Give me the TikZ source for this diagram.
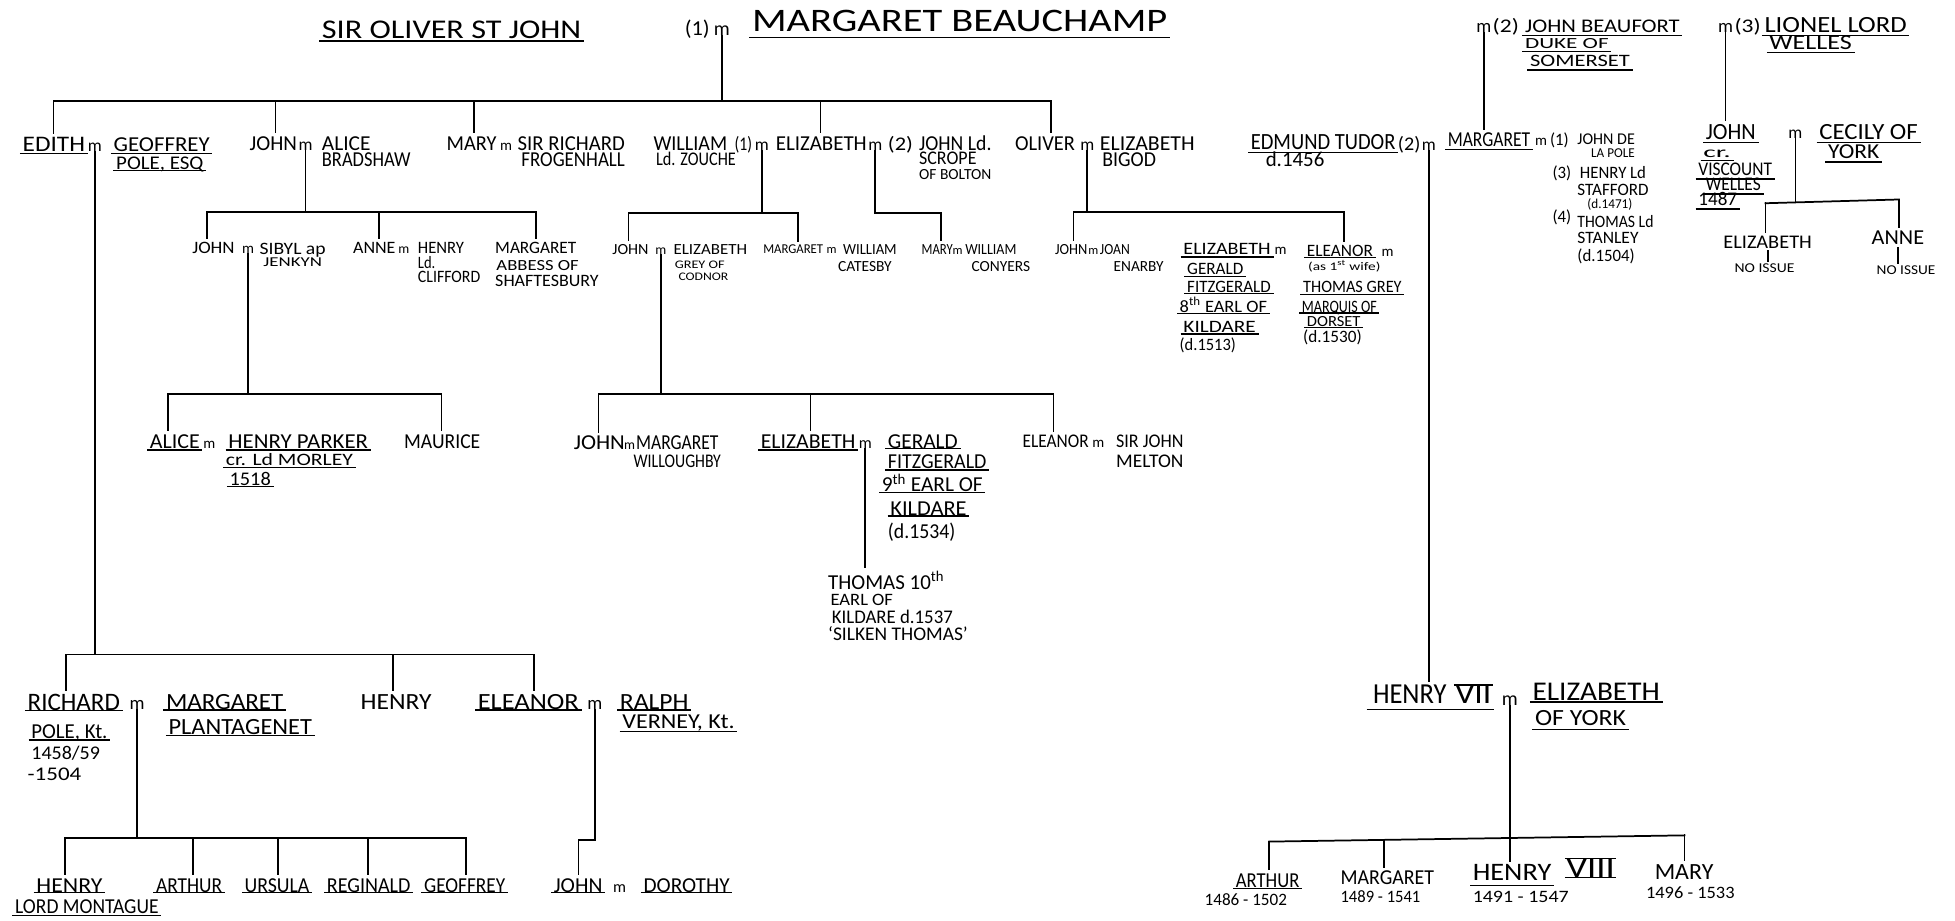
\documentclass[tikz,border=0pt]{standalone}
\usepackage{fontspec}
\setmainfont{Carlito}
\usepackage{graphicx}
\usetikzlibrary{calc}
% name, x-left, x-right, y-centre, cap height, text
\newcommand\tn[6]{\node[txt] (#1) at ({#2},{#4+#5/2}) {\fontsize{\fpeval{#5*1.55}}{\fpeval{#5*2}}\selectfont\resizebox{\fpeval{#3-#2}pt}{\height}{#6}};}
% name, x, baseline, font size
\newcommand\mn[4]{\node[txt,anchor=base] (#1) at ({#2},{#3}) {\fontsize{#4}{#4}\selectfont m};}
\newcommand\ulin[2][2.5]{\draw[uline] ($(#2.base west)+(-2,#1)$) -- ($(#2.base east)+(2,#1)$);}
\newcommand\dropto[2]{\draw[dl] (#1) -- (#1 |- #2.north);}
\begin{document}
\begin{tikzpicture}[x=1pt,y=-1pt,
  txt/.style={inner sep=0pt,anchor=base west},
  ln/.style={line width=1.4pt,line cap=rect},
  dl/.style={ln,shorten >=3pt},
  uline/.style={line width=1.1pt}]
\fill[white] (0,0) rectangle (1568,738);
\useasboundingbox (0,0) rectangle (1568,738);

% ---------- top generation
\tn{soj}{258}{466}{24}{14}{SIR OLIVER ST JOHN}\ulin[2]{soj}
\tn{one}{549}{569}{23}{11}{(1)}
\mn{mtop}{579}{28.5}{16}
\tn{mb}{603}{936}{17}{17}{MARGARET BEAUCHAMP}\ulin[4.5]{mb}

\coordinate (tJ) at (579,81);
\coordinate (tA) at (43,81);
\coordinate (tB) at (221,81);
\coordinate (tC) at (380,81);
\coordinate (tD) at (658,81);
\coordinate (tE) at (843,81);

% ---------- row 1
\tn{edith}{18}{68}{116}{11.5}{EDITH}\ulin[1.5]{edith}
\mn{med}{76}{121.5}{14}
\tn{geof}{91}{168}{116}{11}{GEOFFREY}\ulin[1.5]{geof}
\tn{pole}{93}{163}{131}{10}{POLE, ESQ}\ulin[1]{pole}
\tn{john1}{200}{238}{115}{11}{JOHN}
\mn{mjo}{245}{120.5}{14}
\tn{alice1}{258}{297}{115}{11}{ALICE}
\tn{brad}{258}{329}{128}{11}{BRADSHAW}
\tn{mary1}{358}{398}{115}{11}{MARY}
\mn{mma}{406}{120.5}{12}
\tn{sirr}{415}{501}{115}{11}{SIR RICHARD}
\tn{frog}{418}{501}{128}{11}{FROGENHALL}
\tn{will}{524}{583}{115}{11}{WILLIAM}
\tn{wone}{589}{603}{116}{10}{(1)}
\mn{mwi}{611}{120.5}{14}
\tn{zou}{526}{590}{128}{10}{Ld. ZOUCHE}
\tn{eliz1}{622}{695}{115}{11}{ELIZABETH}
\mn{mel}{702}{120.5}{14}
\tn{etwo}{712}{732}{116}{10}{(2)}
\tn{scr1}{737}{795}{115}{11}{JOHN Ld.}
\tn{scr2}{737}{783}{127}{10}{SCROPE}
\tn{scr3}{737}{795}{140}{8}{OF BOLTON}
\tn{oliv}{814}{862}{115}{11}{OLIVER}
\mn{mol}{872}{120.5}{14}
\tn{eb1}{882}{958}{115}{11}{ELIZABETH}
\tn{eb2}{884}{927}{128}{11}{BIGOD}

\draw[ln] (mtop) -- (tJ);
\draw[ln] (tA) -- (tE);
\dropto{tA}{edith}
\dropto{tB}{john1}
\dropto{tC}{mary1}
\dropto{tD}{eliz1}
\dropto{tE}{oliv}

% ---------- right: Margaret Beauchamp's other marriages
\mn{mbf}{1190}{26}{15}
\tn{bftwo}{1197}{1218}{21}{10}{(2)}
\tn{bf1}{1223}{1347}{21}{10}{JOHN BEAUFORT}\ulin{bf1}
\tn{bf2}{1223}{1290}{35}{8}{DUKE OF}\ulin{bf2}
\tn{bf3}{1227}{1307}{49}{9}{SOMERSET}\ulin{bf3}
\mn{mwl}{1384}{26}{15}
\tn{wltwo}{1391}{1412}{21}{10}{(3)}
\tn{wl1}{1415}{1529}{20}{12}{LIONEL LORD}\ulin{wl1}
\tn{wl2}{1419}{1485}{34}{11}{WELLES}\ulin{wl2}

\tn{edm}{1003}{1119}{114}{12}{EDMUND TUDOR}\ulin{edm}
\tn{edd}{1015}{1062}{128}{11}{d.1456}
\tn{edtwo}{1121}{1139}{116}{10}{(2)}
\mn{med2}{1146}{121}{14}
\tn{marg}{1161}{1227}{112}{11}{MARGARET}\ulin{marg}
\mn{mmg}{1236}{117}{12}
\tn{mgone}{1243}{1258}{112}{9}{(1)}
\tn{jdp1}{1265}{1311}{112}{8.5}{JOHN DE}
\tn{jdp2}{1276}{1311}{123}{7}{LA POLE}
\tn{mg3}{1245}{1260}{139}{9}{(3)}
\tn{hs1}{1267}{1320}{139}{9}{HENRY Ld}
\tn{hs2}{1265}{1322}{152}{9}{STAFFORD}
\tn{hs3}{1273}{1309}{164}{7}{(d.1471)}
\tn{mg4}{1245}{1260}{174}{9}{(4)}
\tn{ts1}{1265}{1326}{178}{9}{THOMAS Ld}
\tn{ts2}{1265}{1314}{191}{9}{STANLEY}
\tn{ts3}{1265}{1311}{205}{9}{(d.1504)}

\tn{jw1}{1368}{1408}{106}{12}{JOHN}\ulin{jw1}
\tn{jw2}{1366}{1388}{122}{8}{cr.}\ulin{jw2}
\tn{jw3}{1362}{1421}{136}{10}{VISCOUNT}\ulin{jw3}
\tn{jw4}{1368}{1412}{148}{10}{WELLES}\ulin{jw4}
\tn{jw5}{1362}{1393}{160}{10}{1487}\ulin{jw5}
\mn{mcy}{1440}{111}{14}
\tn{cy1}{1459}{1538}{106}{12}{CECILY OF}\ulin{cy1}
\tn{cy2}{1466}{1507}{122}{11}{YORK}\ulin{cy2}
\tn{cye}{1382}{1453}{194}{10}{ELIZABETH}
\tn{cyen}{1391}{1439}{215}{7}{NO ISSUE}
\tn{cya}{1501}{1543}{191}{11}{ANNE}
\tn{cyan}{1505}{1552}{217}{7}{NO ISSUE}

\draw[dl] (mbf) -- (mbf |- marg.north);
\draw[dl] (mwl) -- (mwl |- jw1.north);
\coordinate (cyJ) at (1440,162);
\coordinate (cyL) at (1416,163);
\coordinate (cyR) at (1523,160);
\draw[ln] (mcy) -- (cyJ);
\draw[ln] (cyL) -- (cyR);
\dropto{cyL}{cye}
\dropto{cyR}{cya}
\draw[ln,shorten <=2pt,shorten >=2pt] (cye.south) -- (cye.south |- cyen.north);
\draw[ln,shorten <=2pt,shorten >=2pt] (cya.south) -- (cya.south |- cyan.north);

% ---------- row 2
\tn{js}{154}{188}{199}{9}{JOHN}
\mn{mjs}{199}{203.5}{12}
\tn{sib1}{208}{261}{200}{9}{SIBYL ap}
\tn{sib2}{211}{258}{210.5}{7}{JENKYN}
\tn{anne}{283}{317}{199}{9}{ANNE}
\mn{man}{324}{203.5}{11}
\tn{hc1}{335}{372}{199}{9}{HENRY}
\tn{hc2}{335}{349}{211}{9}{Ld.}
\tn{hc3}{335}{385}{222}{9}{CLIFFORD}
\tn{abm}{397}{462}{199}{9}{MARGARET}
\tn{ab2}{398}{464}{213}{8}{ABBESS OF}
\tn{ab3}{397}{480}{225}{9}{SHAFTESBURY}
\tn{jz}{491}{520}{200}{8}{JOHN}
\mn{mjz}{530}{204}{11}
\tn{egc1}{540}{599}{200}{8}{ELIZABETH}
\tn{egc2}{541}{581}{212}{6}{GREY OF}
\tn{egc3}{544}{584}{222}{6}{CODNOR}
\tn{mgc}{612}{660}{200}{7}{MARGARET}
\mn{mmc}{667}{203.5}{10}
\tn{wc1}{676}{719}{200}{8}{WILLIAM}
\tn{wc2}{672}{715}{214}{8}{CATESBY}
\tn{myc}{739}{764}{200}{8}{MARY}
\mn{mmy}{768}{204}{10}
\tn{wy1}{774}{815}{200}{8}{WILLIAM}
\tn{wy2}{779}{826}{214}{8}{CONYERS}
\tn{jj}{846}{872}{200}{8}{JOHN}
\mn{mjj}{877}{204}{10}
\tn{jo1}{882}{906}{200}{8}{JOAN}
\tn{jo2}{893}{933}{214}{8}{ENARBY}
\tn{ek1}{949}{1019}{200}{9}{ELIZABETH}\ulin[1.5]{ek1}
\mn{mek}{1027}{204.5}{12}
\tn{ek2}{952}{997}{216}{9}{GERALD}\ulin[1.5]{ek2}
\tn{ek3}{952}{1019}{230}{9}{FITZGERALD}\ulin[1]{ek3}
\tn{ek4}{946}{1016}{246}{9}{8\textsuperscript{th} EARL OF}\ulin[1]{ek4}
\tn{ek5}{949}{1007}{262}{9}{KILDARE}\ulin[1.5]{ek5}
\tn{ek6}{946}{991}{277}{9}{(d.1513)}
\tn{el2}{1048}{1101}{201}{9}{ELEANOR}\ulin[1]{el2}
\mn{mel2}{1113}{205.5}{12}
\tn{el3}{1049}{1107}{214}{6}{(as 1\textsuperscript{st} wife)}
\tn{el4}{1045}{1124}{230}{9}{THOMAS GREY}\ulin[1.5]{el4}
\tn{el5}{1044}{1104}{246}{9}{MARQUIS OF}\ulin[0.5]{el5}
\tn{el6}{1048}{1091}{258}{8}{DORSET}\ulin[0.5]{el6}
\tn{el7}{1045}{1092}{270}{9}{(d.1530)}

\coordinate (jaJ) at (245,170);
\coordinate (jaL) at (166,170);
\coordinate (jaM) at (304,170);
\coordinate (jaR) at (430,170);
\draw[ln] (mjo) -- (jaJ);
\draw[ln] (jaL) -- (jaR);
\dropto{jaL}{js}
\dropto{jaM}{anne}
\dropto{jaR}{abm}

\coordinate (jwJ) at (611,171);
\coordinate (jwL) at (504,171);
\coordinate (jwR) at (640,171);
\draw[ln] (mwi) -- (jwJ);
\draw[ln] (jwL) -- (jwR);
\dropto{jwL}{jz}
\dropto{jwR}{mgc}

\coordinate (es1) at (702,171);
\coordinate (es2) at (755,171);
\draw[dl] (mel) -- (es1) -- (es2) -- (es2 |- myc.north);

\coordinate (joJ) at (872,170);
\coordinate (joL) at (861,170);
\coordinate (joR) at (1078,170);
\draw[ln] (mol) -- (joJ);
\draw[ln] (joL) -- (joR);
\dropto{joL}{jj}
\dropto{joR}{el2}

% ---------- row 3
\tn{al}{120}{160}{354}{11}{ALICE}\ulin[1.5]{al}
\mn{mal}{168}{359.5}{12}
\tn{hp1}{183}{295}{354}{11}{HENRY PARKER}\ulin[1.5]{hp1}
\tn{hp2}{181}{283}{369}{9}{cr. Ld MORLEY}\ulin[1.5]{hp2}
\tn{hp3}{184}{217}{384}{10}{1518}\ulin[1]{hp3}
\tn{mau}{324}{385}{354}{11}{MAURICE}
\tn{jm}{460}{501}{355}{11}{JOHN}
\mn{mjm}{505}{360.5}{11}
\tn{mw1}{510}{576}{355}{11}{MARGARET}
\tn{mw2}{508}{578}{370}{10}{WILLOUGHBY}
\tn{ez}{610}{686}{354}{11}{ELIZABETH}\ulin[1.5]{ez}
\mn{mez}{694}{359.5}{13}
\tn{gf1}{712}{768}{354}{11}{GERALD}\ulin[0]{gf1}
\tn{gf2}{712}{791}{370}{11}{FITZGERALD}\ulin[1.5]{gf2}
\tn{gf3}{707}{788}{389}{11}{9\textsuperscript{th} EARL OF}\ulin[0.5]{gf3}
\tn{gf4}{714}{775}{408}{11}{KILDARE}\ulin[0.5]{gf4}
\tn{gf5}{712}{766}{426}{11}{(d.1534)}
\tn{th1}{664}{757}{467}{11}{THOMAS 10\textsuperscript{th}}
\tn{th2}{666}{716}{481}{9}{EARL OF}
\tn{th3}{667}{764}{495}{10}{KILDARE d.1537}
\tn{th4}{664}{776}{509}{10}{`SILKEN THOMAS'}
\tn{elm}{820}{873}{354}{10}{ELEANOR}
\mn{mem}{881}{359}{12}
\tn{sj1}{895}{949}{354}{10}{SIR JOHN}
\tn{sj2}{895}{949}{370}{10}{MELTON}

\coordinate (sJ) at (199,316);
\coordinate (sL) at (135,316);
\coordinate (sR) at (354,316);
\draw[ln] (mjs) -- (sJ);
\draw[ln] (sL) -- (sR);
\dropto{sL}{al}
\dropto{sR}{mau}

\coordinate (gJ) at (530,316);
\coordinate (gL) at (480,316);
\coordinate (gM) at (650,316);
\coordinate (gR) at (845,316);
\draw[ln] (mjz) -- (gJ);
\draw[ln] (gL) -- (gR);
\dropto{gL}{jm}
\dropto{gM}{ez}
\dropto{gR}{elm}

\draw[dl] (mez) -- (mez |- th1.north);

% ---------- row 4
\tn{ri}{22}{96}{563}{13}{RICHARD}\ulin[0.5]{ri}
\mn{mri}{110}{569}{15}
\tn{ri2}{25}{86}{587}{11}{POLE, Kt.}\ulin[1]{ri2}
\tn{ri3}{25}{80}{604}{10}{1458/59}
\tn{ri4}{22}{65}{621}{10}{-1504}
\tn{mp1}{133}{227}{563}{12}{MARGARET}\ulin[0.5]{mp1}
\tn{mp2}{135}{250}{583}{12}{PLANTAGENET}\ulin[1]{mp2}
\tn{hy}{289}{346}{563}{12}{HENRY}
\tn{eln}{383}{464}{563}{12}{ELEANOR}\ulin[0.5]{eln}
\mn{mer}{477}{569}{15}
\tn{rv1}{497}{552}{563}{12}{RALPH}\ulin[0.5]{rv1}
\tn{rv2}{499}{589}{579}{11}{VERNEY, Kt.}\ulin[2]{rv2}

\coordinate (rJ) at (76,525);
\coordinate (rL) at (53,525);
\coordinate (rM) at (315,525);
\coordinate (rR) at (428,525);
\draw[ln] (med) -- (rJ);
\draw[ln] (rL) -- (rR);
\dropto{rL}{ri}
\dropto{rM}{hy}
\dropto{rR}{eln}

% ---------- row 5
\tn{hm}{29}{82}{710}{11}{HENRY}\ulin[0.5]{hm}
\tn{hm2}{12}{127}{727}{11}{LORD MONTAGUE}\ulin[2]{hm2}
\tn{ar}{125}{178}{710}{11}{ARTHUR}\ulin[0.5]{ar}
\tn{ur}{196}{248}{710}{11}{URSULA}\ulin[0.5]{ur}
\tn{rg}{262}{329}{710}{11}{REGINALD}\ulin[0.5]{rg}
\tn{gfy}{340}{405}{710}{11}{GEOFFREY}\ulin[0.5]{gfy}
\tn{jd}{444}{483}{710}{11}{JOHN}\ulin[0.5]{jd}
\mn{mjd}{497}{715.5}{13}
\tn{dor}{516}{585}{710}{11}{DOROTHY}\ulin[0.5]{dor}

\coordinate (pJ) at (110,672);
\coordinate (pL) at (52,672);
\coordinate (p2) at (155,672);
\coordinate (p3) at (223,672);
\coordinate (p4) at (295,672);
\coordinate (pR) at (374,672);
\draw[ln] (mri) -- (pJ);
\draw[ln] (pL) -- (pR);
\dropto{pL}{hm}
\dropto{p2}{ar}
\dropto{p3}{ur}
\dropto{p4}{rg}
\dropto{pR}{gfy}

\coordinate (e1) at (477,674);
\coordinate (e2) at (464,674);
\draw[dl] (mer) -- (e1) -- (e2) -- (e2 |- jd.north);

% ---------- Henry VII
\tn{h7a}{1101}{1160}{557}{15}{HENRY}
\tn{h7b}{1167}{1196}{557}{15}{VII}
\draw[uline] ($(h7a.base west)+(-5,4.5)$) -- ($(h7b.base east)+(2,4.5)$);
\draw[uline] ($(h7b.north west)+(-1,0)$) -- ($(h7b.north east)+(1,0)$);
\mn{mh7}{1211}{566}{16}
\tn{ey1}{1229}{1331}{555}{14}{ELIZABETH}\ulin[1]{ey1}
\tn{ey2}{1231}{1304}{576}{12}{OF YORK}\ulin[3]{ey2}
\draw[dl] (med2) -- (med2 |- h7a.north);

\tn{ka}{991}{1042}{706}{11}{ARTHUR}\ulin[1]{ka}
\tn{ka2}{966}{1032}{722}{9}{1486 - 1502}
\tn{kb}{1075}{1150}{704}{11}{MARGARET}
\tn{kb2}{1075}{1139}{719}{9}{1489 - 1541}
\tn{kc}{1181}{1244}{700}{13}{HENRY}\ulin[3.5]{kc}
\tn{kc1}{1256}{1295}{696}{15}{VIII}
\draw[uline] ($(kc1.north west)+(-1,0)$) -- ($(kc1.north east)+(1,0)$);
\draw[uline] ($(kc1.base west)+(-1,0.5)$) -- ($(kc1.base east)+(1,0.5)$);
\tn{kc2}{1181}{1258}{719}{9}{1491 - 1547}
\tn{kd}{1327}{1374}{699}{12}{MARY}
\tn{kd2}{1320}{1391}{716}{9}{1496 - 1533}

\coordinate (kJ) at (1211,672);
\coordinate (kL) at (1018,675);
\coordinate (k2) at (1110,673.5);
\coordinate (kR) at (1351,670);
\draw[ln] (mh7) -- (kJ);
\draw[ln] (kL) -- (kR);
\dropto{kL}{ka}
\dropto{k2}{kb}
\dropto{kJ}{kc}
\dropto{kR}{kd}
\end{tikzpicture}
\end{document}
